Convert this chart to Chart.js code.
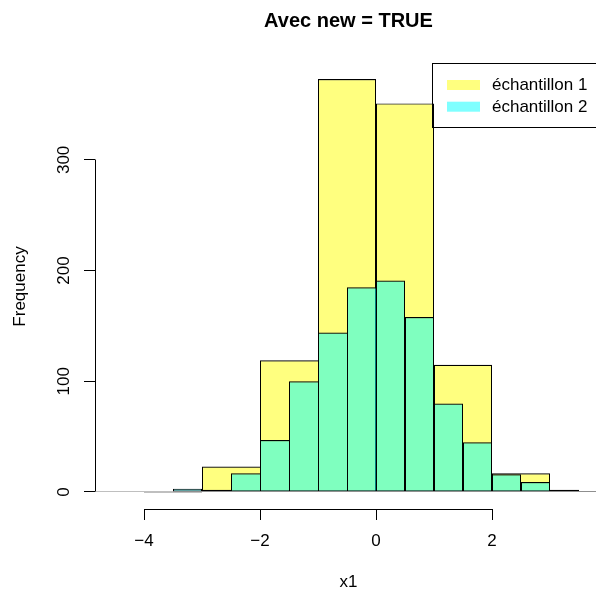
<!DOCTYPE html>
<html>
<head>
<meta charset="utf-8">
<script src="https://cdn.jsdelivr.net/npm/chart.js@4.4.1/dist/chart.umd.min.js"></script>
<style>
  html, body { margin: 0; padding: 0; background: #fff; overflow: hidden; }
  #wrap { width: 596px; height: 591px; overflow: hidden; }
</style>
</head>
<body>
<div id="wrap"><canvas id="hist" width="610" height="591"></canvas></div>
<script>
// textes
const titre = 'Avec new = TRUE';
const xLabel = 'x1';
const yLabel = 'Frequency';
const seriesNames = ['échantillon 1', 'échantillon 2'];

// échantillon 1 : classes de largeur 1
const breaks1 = [-5, -4, -3, -2, -1, 0, 1, 2, 3, 4];
const counts1 = [1, 0, 23, 119, 373, 351, 115, 17, 1];

// échantillon 2 : classes de largeur 0.5
const breaks2 = [-3.5, -3, -2.5, -2, -1.5, -1, -0.5, 0, 0.5, 1, 1.5, 2, 2.5, 3, 3.5, 4];
const counts2 = [3, 2, 17, 47, 100, 144, 185, 191, 158, 80, 45, 16, 9, 2, 1];

const xTicks = [-4, -2, 0, 2];
const yTicks = [0, 100, 200, 300];

// fenêtre des axes (comme usr dans R)
const xMin = -4.84483, xMax = 3.89655;
const yMin = -15.36, yMax = 386.6;

Chart.defaults.font.family = '"Liberation Sans", Arial, Helvetica, sans-serif';
Chart.defaults.color = '#000';

const toBars = (breaks, counts) => counts.map((c, i) => ({ x: (breaks[i] + breaks[i + 1]) / 2, y: c }));

// bordures façon R : un seul trait entre deux barres voisines
const barEdges = ctx => {
    const d = ctx.dataset.data;
    const i = ctx.dataIndex;
    const next = d[i + 1];
    return { top: 1.2, left: 1, bottom: 1, right: (!next || next.y < d[i].y) ? 1 : 0 };
};

const al = p => Math.round(p - 0.5) + 0.5;

const rStyle = {
    id: 'rStyle',
    afterDraw(chart) {
        const { ctx, chartArea: a, scales: { x, y } } = chart;
        ctx.save();
        ctx.strokeStyle = '#000';
        ctx.lineWidth = 1;

        // axes
        ctx.beginPath();
        ctx.moveTo(al(x.getPixelForValue(xTicks[0])), al(a.bottom));
        ctx.lineTo(al(x.getPixelForValue(xTicks[xTicks.length - 1])), al(a.bottom));
        ctx.moveTo(al(a.left), al(y.getPixelForValue(yTicks[0])));
        ctx.lineTo(al(a.left), al(y.getPixelForValue(yTicks[yTicks.length - 1])));
        ctx.stroke();

        // titre
        ctx.fillStyle = '#000';
        ctx.font = 'bold 20px "Liberation Sans", Arial, sans-serif';
        ctx.textAlign = 'center';
        ctx.textBaseline = 'alphabetic';
        ctx.fillText(titre, (a.left + a.right) / 2, 27);

        // légende (topright)
        const boxL = a.right - 169.5, boxT = a.top - 0.5, boxB = a.top + 63.5;
        ctx.strokeRect(boxL, boxT, a.right - boxL, boxB - boxT);
        ctx.font = '17px "Liberation Sans", Arial, sans-serif';
        ctx.textAlign = 'left';
        ctx.textBaseline = 'middle';
        chart.data.datasets.forEach((ds, i) => {
            const cy = a.top + 21 + i * 21.7;
            ctx.fillStyle = ds.backgroundColor;
            ctx.fillRect(boxL + 14.5, cy - 5, 33, 10);
            ctx.fillStyle = '#000';
            ctx.fillText(ds.label, boxL + 59.5, cy + 0.5);
        });
        ctx.restore();
    }
};

const barStyle = {
    borderColor: '#000',
    borderWidth: barEdges,
    borderSkipped: false,
    minBarLength: 1,
    grouped: false,
    barPercentage: 1,
    categoryPercentage: 1,
    inflateAmount: 0,
    clip: false
};

new Chart(document.getElementById('hist'), {
    type: 'bar',
    data: {
        datasets: [
            { ...barStyle, label: seriesNames[0], data: toBars(breaks1, counts1), xAxisID: 'x', order: 1, backgroundColor: 'rgba(255, 255, 0, 0.5)' },
            { ...barStyle, label: seriesNames[1], data: toBars(breaks2, counts2), xAxisID: 'x2', order: 0, backgroundColor: 'rgba(0, 255, 255, 0.5)' }
        ]
    },
    options: {
        responsive: false,
        animation: false,
        events: [],
        layout: { padding: { left: 0, right: 8, top: 64, bottom: 0 } },
        plugins: {
            legend: { display: false },
            title: { display: false },
            tooltip: { enabled: false }
        },
        scales: {
            x: {
                type: 'linear',
                min: xMin,
                max: xMax,
                offset: false,
                afterBuildTicks: s => { s.ticks = xTicks.map(v => ({ value: v })); },
                afterFit: s => { s.height = 82; },
                border: { display: false },
                grid: { offset: false, drawOnChartArea: false, drawTicks: true, tickLength: 11, color: '#000' },
                ticks: {
                    color: '#000',
                    font: { size: 17 },
                    padding: 11,
                    maxRotation: 0,
                    autoSkip: false,
                    callback: v => String(v).replace('-', '\u2212')
                },
                title: { display: true, text: xLabel, color: '#000', font: { size: 17, lineHeight: 1 }, padding: 0 }
            },
            x2: {
                type: 'linear',
                display: false,
                min: xMin,
                max: xMax,
                offset: false,
                afterBuildTicks: s => { s.ticks = xTicks.map(v => ({ value: v })); },
                grid: { offset: false }
            },
            y: {
                type: 'linear',
                min: yMin,
                max: yMax,
                afterBuildTicks: s => { s.ticks = yTicks.map(v => ({ value: v })); },
                afterFit: s => { s.width = 95; },
                border: { display: false },
                grid: { drawOnChartArea: false, drawTicks: true, tickLength: 11, color: '#000' },
                ticks: {
                    color: '#000',
                    font: { size: 17 },
                    padding: 6,
                    minRotation: 90,
                    maxRotation: 90,
                    crossAlign: 'center',
                    autoSkip: false
                },
                title: { display: true, text: yLabel, color: '#000', font: { size: 17, lineHeight: 1 }, padding: { top: 12, bottom: 0 } }
            }
        }
    },
    plugins: [rStyle]
});
</script>
</body>
</html>
